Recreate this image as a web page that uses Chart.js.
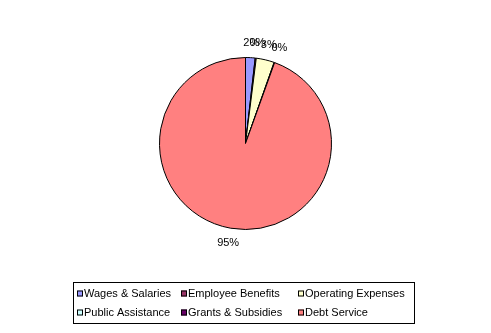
<!DOCTYPE html>
<html>
<head>
<meta charset="utf-8">
<script src="https://cdn.jsdelivr.net/npm/chart.js@4.4.0/dist/chart.umd.min.js"></script>
<style>
    html, body { margin: 0; padding: 0; background: #fff; }
    #wrap { width: 491px; height: 333px; position: relative; }
</style>
</head>
<body>
<div id="wrap"><canvas id="pieChart"></canvas></div>
<script>
// Chart data
const categories = ['Wages & Salaries', 'Employee Benefits', 'Operating Expenses',
                    'Public Assistance', 'Grants & Subsidies', 'Debt Service'];
const shares = [1.8, 0.2, 3.4, 0.1, 0, 94.5];
const shareLabels = ['2%', '0%', '3%', '0%', '', '95%'];
const sliceColors = ['#9999FF', '#993366', '#FFFFCC', '#CCFFFF', '#660066', '#FF8080'];

const FONT = '11px "Liberation Sans", Arial, sans-serif';

/**
 * Percentage labels placed just outside each slice
 */
const outsideLabels = {
    id: 'outsideLabels',
    afterDatasetsDraw(chart) {
        const ctx = chart.ctx;
        const arcs = chart.getDatasetMeta(0).data;
        ctx.save();
        ctx.font = FONT;
        ctx.fillStyle = '#000';
        ctx.textAlign = 'center';
        ctx.textBaseline = 'middle';
        arcs.forEach((arc, i) => {
            if (!shareLabels[i]) return;
            const mid = (arc.startAngle + arc.endAngle) / 2;
            const dist = arc.outerRadius + 15;
            ctx.fillText(shareLabels[i], arc.x + Math.cos(mid) * dist, arc.y + Math.sin(mid) * dist);
        });
        ctx.restore();
    }
};

/**
 * Boxed legend with aligned columns
 */
const boxedLegend = {
    id: 'boxedLegend',
    afterDraw(chart) {
        const ctx = chart.ctx;
        const colX = [77, 181, 298];
        const rowY = [293.5, 312.5];
        ctx.save();
        ctx.strokeStyle = '#000';
        ctx.lineWidth = 1;
        ctx.strokeRect(73.5, 282.5, 341, 41);
        ctx.font = FONT;
        ctx.textBaseline = 'middle';
        chart.data.labels.forEach((label, i) => {
            const x = colX[i % 3];
            const y = rowY[Math.floor(i / 3)];
            ctx.fillStyle = sliceColors[i];
            ctx.fillRect(x, y - 3, 6, 6);
            ctx.strokeRect(x + 0.5, y - 2.5, 5, 5);
            ctx.fillStyle = '#000';
            ctx.fillText(label, x + 7, y + 0.5);
        });
        ctx.restore();
    }
};

document.addEventListener('DOMContentLoaded', function() {
    const ctx = document.getElementById('pieChart').getContext('2d');
    window.pieChart = new Chart(ctx, {
        type: 'pie',
        data: {
            labels: categories,
            datasets: [{
                data: shares,
                backgroundColor: sliceColors,
                borderColor: '#000',
                borderWidth: 1
            }]
        },
        options: {
            responsive: true,
            maintainAspectRatio: false,
            animation: false,
            layout: {
                padding: { top: 57, bottom: 103, left: 159, right: 159 }
            },
            plugins: {
                legend: { display: false },
                tooltip: { enabled: false }
            }
        },
        plugins: [outsideLabels, boxedLegend]
    });
});
</script>
</body>
</html>
